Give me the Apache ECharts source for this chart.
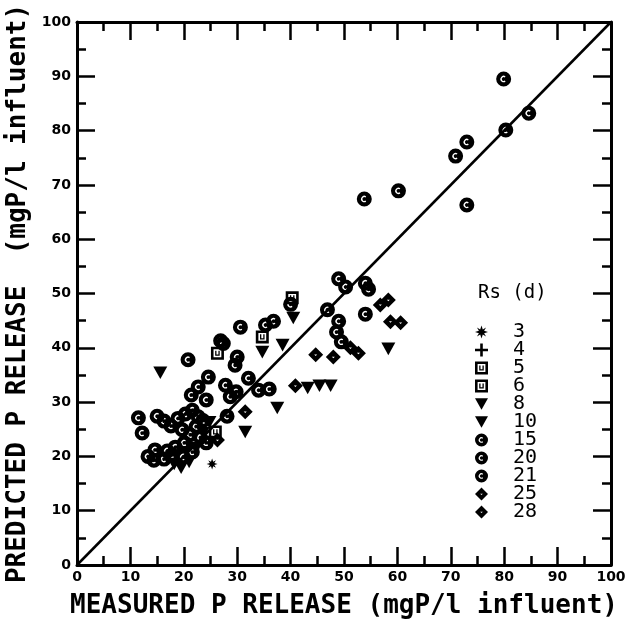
<!DOCTYPE html>
<html><head><meta charset="utf-8">
<script src="https://cdn.jsdelivr.net/npm/echarts@6/dist/echarts.min.js"></script>
<style>html,body{margin:0;padding:0;background:#fff}#c{width:634px;height:627px}</style>
</head><body><div id="c"></div>
<script>
// ---- data (measured, predicted) in mgP/l influent ----
const rsLabels = ['3','4','5','6','8','10','15','20','21','25','28'];
const rs3 = [[25.3,18.6]];
const rs4 = [];
const rs5 = [[34.7,42.0],[26.3,39.0]];
const rs6 = [[25.9,24.5],[40.3,49.2]];
const rs8 = [[15.6,35.4],[40.5,45.5],[34.7,39.2],[38.5,40.5],[43.2,32.6],[45.4,33.0],[47.5,33.0],[58.3,39.8]];
const rs10 = [[37.5,28.9],[31.5,24.5],[19.5,17.9],[18.2,18.6],[21.0,19.0],[22.3,21.5],[23.6,24.3],[24.8,26.3]];
const rs15 = [[79.9,89.5],[80.3,80.1],[84.6,83.2],[70.9,75.3],[73.0,77.9],[73.0,66.3],[60.2,68.9],[53.8,67.4],
  [49.0,52.7],[50.3,51.2],[54.0,51.9],[54.6,50.8],[40.0,48.0],[46.9,47.0],[54.0,46.2],[49.0,44.9],[48.6,42.9],[49.5,41.1]];
const rs20 = [[30.6,43.8],[35.3,44.2],[36.8,44.9],[26.9,41.3],[27.4,40.8],[20.8,37.8],[30.0,38.3],[29.6,36.8],
  [24.6,34.6],[32.1,34.4],[27.8,33.1],[34.0,32.2],[36.0,32.4],[29.8,31.9],[28.7,31.0],[22.7,32.8],[21.4,31.3],[24.2,30.4],[28.1,27.4]];
const rs21 = [[11.5,27.1],[12.2,24.3],[15.0,27.4],[16.3,26.5],[17.6,25.6],[18.9,27.0],[20.3,27.8],[21.6,28.5],[22.7,27.3],
  [19.7,24.9],[21.2,24.0],[22.3,25.5],[23.6,26.6],[23.1,23.5],[24.2,22.5],[20.1,22.5],[18.4,21.7],[16.9,21.0],[14.6,21.2],
  [13.3,20.0],[14.4,19.3],[16.3,19.5],[17.8,20.3],[19.9,19.9],[21.6,20.8]];
const rs25 = [[44.7,38.7],[48.0,38.3],[51.2,40.0],[52.7,39.0],[58.7,44.8],[60.6,44.6]];
const rs28 = [[58.3,48.8],[56.8,47.9],[31.5,28.2],[40.9,33.0],[26.3,23.0]];
const lineOfEquality = [[0,0],[100,100]];

// ---- symbols ----
const SYM = {
  star: 'path://M0,-10L2,-4L7,-7L4,-2L10,0L4,2L7,7L2,4L0,10L-2,4L-7,7L-4,2L-10,0L-4,-2L-7,-7L-2,-4Z',
  plus: 'path://M-2,-10L2,-10L2,-2L10,-2L10,2L2,2L2,10L-2,10L-2,2L-10,2L-10,-2L-2,-2Z',
  square: 'path://M-10,-10L10,-10L10,10L-10,10Z M-6,-6L-6,6L6,6L6,-6Z M-3.5,-4L-1.5,-4L-1.5,2L1.5,2L1.5,-4L3.5,-4L3.5,4L-3.5,4Z',
  tri: 'path://M-10,-8L10,-8L0,10Z',
  circ: 'path://M0,-10A10,10,0,1,1,0,10A10,10,0,1,1,0,-10Z M2.5,-3.5A4.3,4.3,0,1,0,2.5,3.5L1.5,2A2.5,2.5,0,1,1,1.5,-2Z',
  diam: 'path://M0,-10L10,0L0,10L-10,0Z M-2,-0.5L0,1.5L2,-0.5Z'
};
const seriesDefs = [
  [rs3, SYM.star, 11], [rs4, SYM.plus, 12], [rs5, SYM.square, 13], [rs6, SYM.square, 13], [rs8, SYM.tri, 14], [rs10, SYM.tri, 14],
  [rs15, SYM.circ, 15], [rs20, SYM.circ, 15], [rs21, SYM.circ, 15], [rs25, SYM.diam, 15], [rs28, SYM.diam, 15]
];

const lblFont = {fontFamily:'DejaVu Sans', fontWeight:'bold', fontSize:14, color:'#000'};
const titleFont = {fontFamily:'DejaVu Sans Mono', fontWeight:'bold', fontSize:26, color:'#000'};
function axisBase(extra){
  return Object.assign({
    type:'value', min:0, max:100, interval:10,
    axisLine:{show:true, onZero:false, lineStyle:{color:'#000', width:3}},
    axisTick:{show:true, inside:true, length:18, lineStyle:{color:'#000', width:2.5}},
    minorTick:{show:true, splitNumber:2, length:9, lineStyle:{color:'#000', width:2.5}},
    splitLine:{show:false}, minorSplitLine:{show:false}
  }, extra);
}
const chart = echarts.init(document.getElementById('c'), null, {renderer:'canvas'});
const series = seriesDefs.map((d,i)=>({
  name: rsLabels[i], type:'scatter', data:d[0], symbol:d[1], symbolSize:d[2], symbolKeepAspect:true,
  itemStyle:{color:'#000', opacity:1}, emphasis:{disabled:true}, z:3
}));
series.push({type:'line', data:lineOfEquality, symbol:'none', lineStyle:{color:'#000', width:2.5}, z:2, silent:true});

chart.setOption({
  animation:false,
  grid:{left:77, right:23, top:22, bottom:62, outerBoundsMode:'none', containLabel:false},
  xAxis:[
    axisBase({position:'bottom', axisLabel:Object.assign({margin:5}, lblFont),
      name:'MEASURED P RELEASE (mgP/l influent)', nameLocation:'middle', nameGap:28, nameTextStyle:titleFont}),
    axisBase({position:'top', axisLabel:{show:false}})
  ],
  yAxis:[
    axisBase({position:'left', axisLabel:Object.assign({margin:6}, lblFont),
      name:'PREDICTED P RELEASE  (mgP/l influent)', nameLocation:'middle', nameGap:38, nameTextStyle:titleFont}),
    axisBase({position:'right', axisLabel:{show:false}})
  ],
  legend:{
    orient:'vertical', left:470, top:317, itemWidth:13, itemHeight:13, itemGap:-2, selectedMode:false,
    data: rsLabels,
    textStyle:{fontFamily:'DejaVu Sans Mono', fontSize:20, color:'#000', lineHeight:13, padding:[0,0,0,20]}
  },
  graphic:[{type:'text', left:478, top:284, style:{text:'Rs (d)', font:'19px "DejaVu Sans Mono"', fill:'#000'}}],
  series: series
});
</script></body></html>
